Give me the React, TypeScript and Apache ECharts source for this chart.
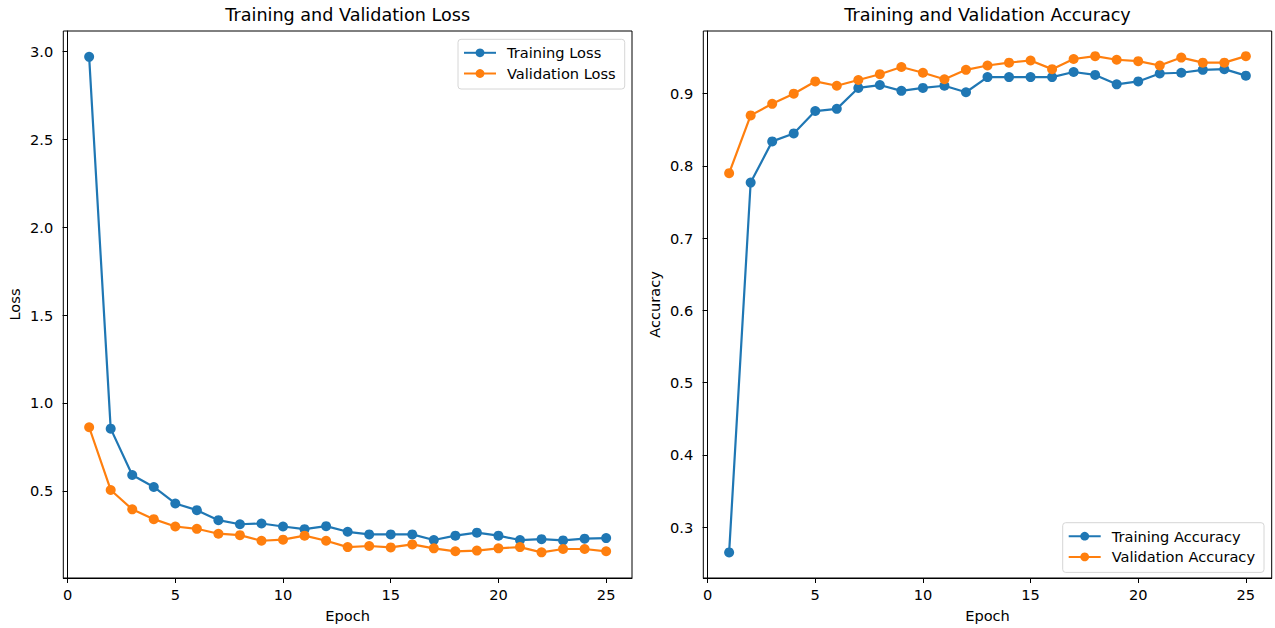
import React, { useEffect, useRef } from "react";
import * as echarts from "echarts";

const epochs = [1, 2, 3, 4, 5, 6, 7, 8, 9, 10, 11, 12, 13, 14, 15, 16, 17, 18, 19, 20, 21, 22, 23, 24, 25];
const trainLoss = [2.97, 0.854, 0.59, 0.522, 0.428, 0.39, 0.333, 0.31, 0.314, 0.297, 0.282, 0.299, 0.267, 0.252, 0.252, 0.252, 0.22, 0.245, 0.262, 0.245, 0.22, 0.225, 0.218, 0.228, 0.231];
const valLoss = [0.862, 0.505, 0.395, 0.339, 0.297, 0.284, 0.256, 0.248, 0.216, 0.222, 0.245, 0.216, 0.18, 0.186, 0.178, 0.195, 0.173, 0.156, 0.16, 0.173, 0.18, 0.15, 0.169, 0.169, 0.156];
const trainAcc = [0.265, 0.777, 0.834, 0.845, 0.876, 0.879, 0.908, 0.912, 0.904, 0.908, 0.911, 0.902, 0.923, 0.923, 0.923, 0.923, 0.93, 0.926, 0.913, 0.917, 0.928, 0.929, 0.933, 0.934, 0.925];
const valAcc = [0.79, 0.87, 0.886, 0.9, 0.917, 0.911, 0.919, 0.927, 0.937, 0.929, 0.92, 0.933, 0.939, 0.943, 0.946, 0.934, 0.948, 0.952, 0.947, 0.945, 0.939, 0.95, 0.943, 0.943, 0.952];

const xTicks = [0, 5, 10, 15, 20, 25];
const lossTicks = [0.5, 1.0, 1.5, 2.0, 2.5, 3.0];
const accTicks = [0.3, 0.4, 0.5, 0.6, 0.7, 0.8, 0.9];

const FONT = "DejaVu Sans";
const BLUE = "#1f77b4";
const ORANGE = "#ff7f0e";

function pairs(ys: number[]) {
  return epochs.map((e, i) => [e, ys[i]]);
}

export default function App() {
  const ref = useRef<HTMLDivElement>(null);
  useEffect(() => {
    if (!ref.current) return;
    const chart = echarts.init(ref.current, null, { renderer: "svg" });
    const axisCommon = {
      axisLine: { show: true, lineStyle: { color: "#000", width: 1 } },
      axisTick: { show: true, length: 5, lineStyle: { color: "#000", width: 1 } },
      splitLine: { show: false },
      nameTextStyle: { fontFamily: FONT, fontSize: 14.6, color: "#000" },
    };
    const xAxisDef = (gridIndex: number) => ({
      ...axisCommon,
      type: "value",
      gridIndex,
      min: -0.2,
      max: 26.2,
      name: "Epoch",
      nameLocation: "middle",
      nameGap: 30,
      axisTick: { ...axisCommon.axisTick, customValues: xTicks },
      axisLabel: {
        customValues: xTicks,
        margin: 9,
        fontFamily: FONT,
        fontSize: 14.6,
        color: "#000",
        formatter: (v: number) => String(v),
      },
    });
    const yAxisDef = (gridIndex: number, min: number, max: number, ticks: number[], name: string) => ({
      ...axisCommon,
      type: "value",
      gridIndex,
      min,
      max,
      name,
      nameLocation: "middle",
      nameGap: 41,
      axisTick: { ...axisCommon.axisTick, customValues: ticks },
      axisLabel: {
        customValues: ticks,
        margin: 10,
        fontFamily: FONT,
        fontSize: 14.6,
        color: "#000",
        formatter: (v: number) => v.toFixed(1),
      },
    });
    const seriesDef = (name: string, ys: number[], color: string, idx: number) => ({
      type: "line",
      name,
      data: pairs(ys),
      xAxisIndex: idx,
      yAxisIndex: idx,
      symbol: "circle",
      symbolSize: 10,
      showSymbol: true,
      lineStyle: { color, width: 2.2 },
      itemStyle: { color },
    });
    const legendDef = (names: string[], left: number, top: number) => ({
      data: names,
      orient: "vertical",
      left,
      top,
      itemWidth: 32,
      itemHeight: 11,
      itemGap: 5.7,
      padding: [6, 9, 8, 5],
      backgroundColor: "rgba(255,255,255,0.8)",
      borderColor: "#d6d6d6",
      borderWidth: 1,
      borderRadius: 3,
      textStyle: { fontFamily: FONT, fontSize: 14.6, color: "#000", padding: [0, 0, 0, 6] },
    });
    chart.setOption({
      animation: false,
      backgroundColor: "#fff",
      title: [
        { text: "Training and Validation Loss", left: 347.7, top: 6, textAlign: "center", padding: 0, textStyle: { fontFamily: FONT, fontSize: 17.6, fontWeight: "normal", color: "#000" } },
        { text: "Training and Validation Accuracy", left: 987.5, top: 6, textAlign: "center", padding: 0, textStyle: { fontFamily: FONT, fontSize: 17.6, fontWeight: "normal", color: "#000" } },
      ],
      grid: [
        { left: 63.3, top: 31, width: 568.7, height: 549, show: true, borderColor: "#000", borderWidth: 1, backgroundColor: "transparent", containLabel: false },
        { left: 703.3, top: 31, width: 568.4, height: 549, show: true, borderColor: "#000", borderWidth: 1, backgroundColor: "transparent", containLabel: false },
      ],
      xAxis: [xAxisDef(0), xAxisDef(1)],
      yAxis: [
        yAxisDef(0, 0.004, 3.117, lossTicks, "Loss"),
        yAxisDef(1, 0.2296, 0.9868, accTicks, "Accuracy"),
      ],
      legend: [
        legendDef(["Training Loss", "Validation Loss"], 458, 39.3),
        legendDef(["Training Accuracy", "Validation Accuracy"], 1062.7, 522.7),
      ],
      series: [
        seriesDef("Training Loss", trainLoss, BLUE, 0),
        seriesDef("Validation Loss", valLoss, ORANGE, 0),
        seriesDef("Training Accuracy", trainAcc, BLUE, 1),
        seriesDef("Validation Accuracy", valAcc, ORANGE, 1),
      ],
    });
    return () => chart.dispose();
  }, []);
  return <div ref={ref} style={{ position: "absolute", left: 0, top: 0, width: 1275, height: 628 }} />;
}
